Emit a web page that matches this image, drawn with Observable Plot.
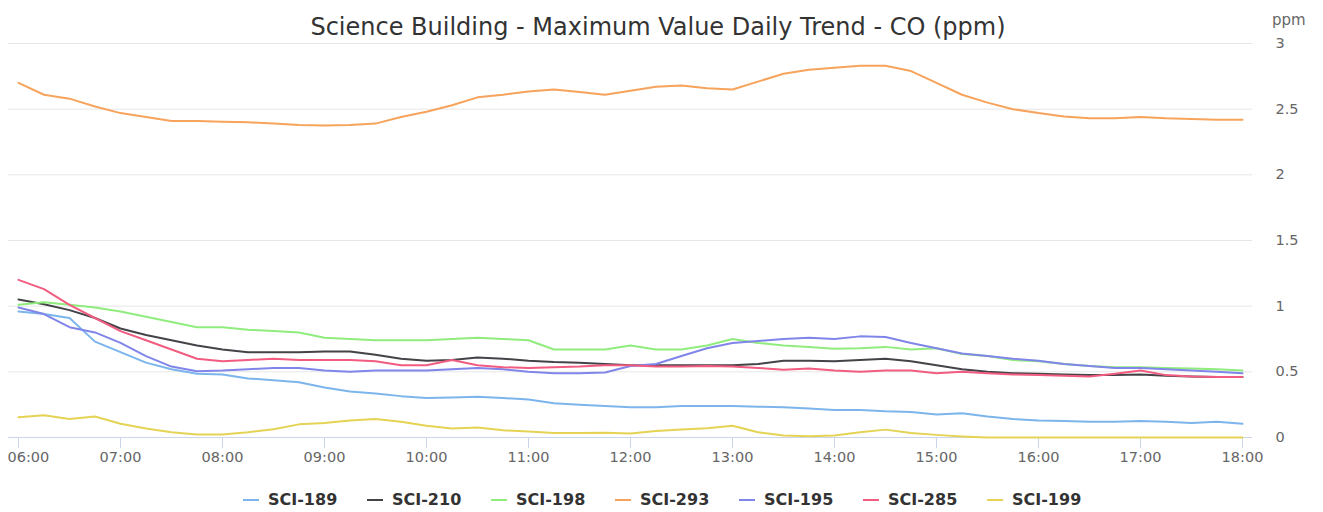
<!DOCTYPE html>
<html>
<head>
<meta charset="utf-8">
<script src="https://cdn.jsdelivr.net/npm/d3@7"></script>
<script src="https://cdn.jsdelivr.net/npm/@observablehq/plot@0.6"></script>
<style>
  html, body { margin: 0; padding: 0; background: #fff; }
  body { width: 1323px; height: 512px; overflow: hidden; font-family: "DejaVu Sans", sans-serif; }
  #header { position: relative; height: 36px; }
  #title { position: absolute; left: 0; width: 1316px; top: 13px; text-align: center; font-size: 24px; line-height: 28px; color: #333333; }
  #unit { position: absolute; left: 1272px; top: 12px; font-size: 15px; line-height: 16px; color: #666666; }
  #legend { display: flex; justify-content: center; margin-top: 15px; padding-left: 31px; }
  .item { display: flex; align-items: center; width: 124px; font-size: 16px; font-weight: bold; color: #333333; line-height: 18px; white-space: nowrap; }
  .sym { width: 16px; height: 2px; margin-right: 9px; flex: none; }
</style>
</head>
<body>
<div id="header"><div id="title"></div><div id="unit"></div></div>
<div id="chart"></div>
<div id="legend"></div>
<script>
const titleText = "Science Building - Maximum Value Daily Trend - CO (ppm)";
const unitLabel = "ppm";

const times = [
  "06:00","06:15","06:30","06:45","07:00","07:15","07:30","07:45",
  "08:00","08:15","08:30","08:45","09:00","09:15","09:30","09:45",
  "10:00","10:15","10:30","10:45","11:00","11:15","11:30","11:45",
  "12:00","12:15","12:30","12:45","13:00","13:15","13:30","13:45",
  "14:00","14:15","14:30","14:45","15:00","15:15","15:30","15:45",
  "16:00","16:15","16:30","16:45","17:00","17:15","17:30","17:45","18:00"
];

const seriesNames = ["SCI-189","SCI-210","SCI-198","SCI-293","SCI-195","SCI-285","SCI-199"];
const seriesColors = ["#7cb5ec","#434348","#90ed7d","#f7a35c","#8085e9","#f15c80","#e4d354"];

const sci189 = [0.96,0.94,0.91,0.73, 0.65,0.57,0.52,0.485, 0.48,0.45,0.435,0.42, 0.38,0.35,0.335,0.315,
  0.30,0.305,0.31,0.30, 0.29,0.26,0.25,0.24, 0.23,0.23,0.24,0.24, 0.24,0.235,0.23,0.22,
  0.21,0.21,0.20,0.195, 0.175,0.185,0.16,0.14, 0.13,0.125,0.12,0.12, 0.125,0.12,0.11,0.12, 0.105];
const sci210 = [1.05,1.015,0.97,0.91, 0.83,0.78,0.74,0.70, 0.67,0.65,0.65,0.65, 0.655,0.655,0.63,0.60,
  0.585,0.59,0.61,0.60, 0.585,0.575,0.57,0.56, 0.55,0.55,0.55,0.55, 0.55,0.56,0.585,0.585,
  0.58,0.59,0.60,0.58, 0.55,0.52,0.50,0.49, 0.485,0.48,0.475,0.475, 0.48,0.47,0.465,0.46, 0.46];
const sci198 = [1.01,1.03,1.01,0.99, 0.96,0.92,0.88,0.84, 0.84,0.82,0.81,0.80, 0.76,0.75,0.74,0.74,
  0.74,0.75,0.76,0.75, 0.74,0.67,0.67,0.67, 0.70,0.67,0.67,0.70, 0.75,0.72,0.70,0.69,
  0.675,0.68,0.69,0.67, 0.68,0.635,0.62,0.59, 0.58,0.56,0.545,0.535, 0.535,0.53,0.525,0.52, 0.51];
const sci293 = [2.70,2.61,2.58,2.52, 2.47,2.44,2.41,2.41, 2.405,2.40,2.39,2.38, 2.375,2.38,2.39,2.44,
  2.48,2.53,2.59,2.61, 2.635,2.65,2.63,2.61, 2.64,2.67,2.68,2.66, 2.65,2.71,2.77,2.80,
  2.815,2.83,2.83,2.79, 2.70,2.61,2.55,2.50, 2.47,2.445,2.43,2.43, 2.44,2.43,2.425,2.42, 2.42];
const sci195 = [0.99,0.94,0.84,0.80, 0.72,0.62,0.54,0.505, 0.51,0.52,0.53,0.53, 0.51,0.50,0.51,0.51,
  0.51,0.52,0.53,0.52, 0.50,0.49,0.49,0.495, 0.545,0.56,0.62,0.68, 0.72,0.735,0.75,0.76,
  0.75,0.77,0.765,0.72, 0.68,0.64,0.62,0.60, 0.585,0.56,0.545,0.53, 0.53,0.52,0.51,0.50, 0.49];
const sci285 = [1.20,1.13,1.01,0.91, 0.81,0.74,0.67,0.60, 0.58,0.59,0.60,0.59, 0.59,0.59,0.58,0.55,
  0.55,0.59,0.55,0.535, 0.53,0.535,0.54,0.55, 0.55,0.54,0.54,0.545, 0.54,0.53,0.515,0.525,
  0.51,0.50,0.51,0.51, 0.49,0.50,0.49,0.48, 0.475,0.47,0.465,0.485, 0.51,0.475,0.465,0.46, 0.46];
const sci199 = [0.154,0.17,0.14,0.16, 0.105,0.068,0.04,0.023, 0.023,0.04,0.063,0.10, 0.11,0.13,0.14,0.12,
  0.09,0.068,0.076,0.055, 0.045,0.035,0.035,0.037, 0.03,0.05,0.06,0.07, 0.09,0.04,0.015,0.01,
  0.015,0.04,0.06,0.035, 0.02,0.008,0,0, 0,0,0,0, 0,0,0,0, 0];

const yTicks = [0, 0.5, 1, 1.5, 2, 2.5, 3];
const xTickLabels = ["06:00","07:00","08:00","09:00","10:00","11:00","12:00","13:00","14:00","15:00","16:00","17:00","18:00"];

const seriesValues = [sci189, sci210, sci198, sci293, sci195, sci285, sci199];

const toHours = s => { const [h, m] = s.split(":").map(Number); return h + m / 60; };
const labelOf = h => xTickLabels.find(s => toHours(s) === h);

const data = [];
seriesNames.forEach((name, si) => {
  seriesValues[si].forEach((v, i) => data.push({series: name, t: toHours(times[i]), value: v}));
});

document.getElementById("title").textContent = titleText;
document.getElementById("unit").textContent = unitLabel;

const xTicks = xTickLabels.map(toHours);

const chart = Plot.plot({
  width: 1323,
  height: 440,
  marginLeft: 18,
  marginRight: 81,
  marginTop: 7,
  marginBottom: 39,
  style: {fontFamily: "DejaVu Sans, sans-serif", fontSize: "14.5px", color: "#666666", background: "#ffffff", overflow: "visible"},
  x: {domain: [6, 18], axis: null},
  y: {domain: [0, 3], axis: null},
  color: {domain: seriesNames, range: seriesColors},
  marks: [
    Plot.ruleY(yTicks.filter(d => d > 0), {stroke: "#e6e6e6", strokeWidth: 1, insetLeft: -10, insetRight: -10}),
    Plot.ruleY([0], {stroke: "#ccd6eb", strokeWidth: 1, insetLeft: -10, insetRight: -10}),
    Plot.axisX({ticks: xTicks, tickFormat: (d, i) => i === 0 ? "" : labelOf(d), tickSize: 11, tickPadding: 3, stroke: "#ccd6eb", strokeOpacity: 1, fill: "#666666", fontSize: 14.5, label: null}),
    Plot.axisX({ticks: xTicks.slice(0, 1), tickFormat: labelOf, tickSize: 0, tickPadding: 14, fill: "#666666", fontSize: 14.5, label: null, textAnchor: "start", dx: -11}),
    Plot.axisY({anchor: "right", ticks: yTicks, tickFormat: d => String(d), tickSize: 0, tickPadding: 33, fill: "#666666", fontSize: 14.5, label: null, textAnchor: "start"}),
    Plot.line(data, {x: "t", y: "value", z: "series", stroke: "series", strokeWidth: 2, curve: "linear"})
  ]
});
document.getElementById("chart").appendChild(chart);

const legend = document.getElementById("legend");
seriesNames.forEach((name, i) => {
  const item = document.createElement("div");
  item.className = "item";
  const sym = document.createElement("span");
  sym.className = "sym";
  sym.style.background = seriesColors[i];
  const txt = document.createElement("span");
  txt.textContent = name;
  item.appendChild(sym);
  item.appendChild(txt);
  legend.appendChild(item);
});
</script>
</body>
</html>
